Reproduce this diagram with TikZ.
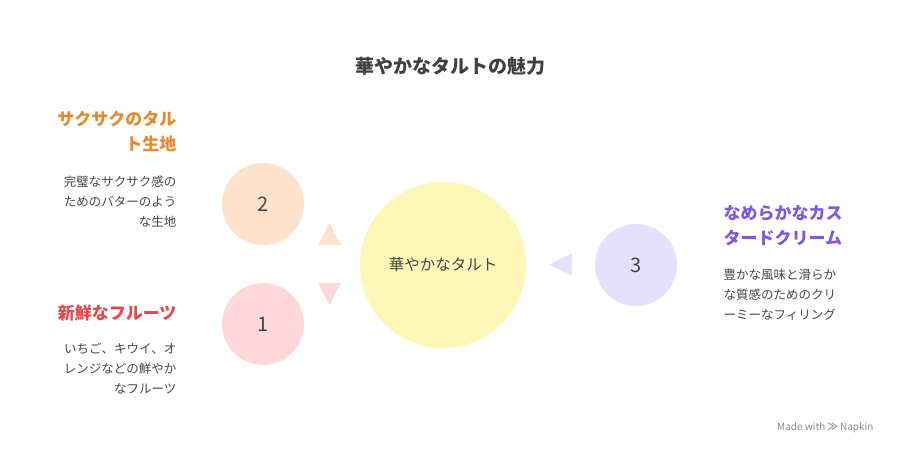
\documentclass[tikz,border=0pt]{standalone}
\usepackage{fontspec}
\setmainfont{Noto Sans CJK JP}
\begin{document}
\begin{tikzpicture}[x=1pt,y=-1pt,
  circ/.style={circle,inner sep=0pt},
  num/.style={font=\fontsize{20}{20}\selectfont,text=black!72},
  head/.style={font=\fontsize{17}{25}\selectfont\bfseries},
  desc/.style={font=\fontsize{12.5}{20}\selectfont,text=black!72}]
\useasboundingbox (0,0) rectangle (900,456);
\definecolor{cy}{HTML}{FFF7B8}\definecolor{co}{HTML}{FFE2CC}
\definecolor{cr}{HTML}{FFD9D9}\definecolor{cp}{HTML}{E6E0FF}
\definecolor{ho}{HTML}{E8892F}\definecolor{hr}{HTML}{E5484D}\definecolor{hp}{HTML}{8056E6}
\node (title) at (450,66) {\fontsize{19}{20}\selectfont\bfseries\color{black!75}華やかなタルトの魅力};
\node[circ,fill=cy,minimum size=166] (c0) at (443,265) {};
\node[text=black!72,font=\fontsize{15.5}{16}\selectfont] (c0t) at (c0) {華やかなタルト};
\node[circ,fill=co,minimum size=82,num] (c2) at (263,204) {2};
\node[circ,fill=cr,minimum size=82,num] (c1) at (263,324) {1};
\node[circ,fill=cp,minimum size=82,num] (c3) at (636,265) {3};
\fill[co] (318,245) -- (341,245) -- (329.5,223) -- cycle;
\fill[cr] (318,283) -- (341,283) -- (329.5,305) -- cycle;
\fill[cp] (549,264.5) -- (572,253) -- (572,276) -- cycle;
\node[head,text=ho,align=right,anchor=north east] (h2) at (180,108) {サクサクのタル\\ト生地};
\node[desc,align=right,anchor=north east] (d2) at (180,172) {完璧なサクサク感の\\ためのバターのよう\\な生地};
\node[head,text=hr,anchor=north east] (h1) at (180,301) {新鮮なフルーツ};
\node[desc,align=right,anchor=north east] (d1) at (180,339) {いちご、キウイ、オ\\レンジなどの鮮やか\\なフルーツ};
\node[head,text=hp,align=left,anchor=north west] (h3) at (720,202) {なめらかなカス\\タードクリーム};
\node[desc,align=left,anchor=north west] (d3) at (720,265) {豊かな風味と滑らか\\な質感のためのクリ\\ーミーなフィリング};
\node[font=\fontsize{10}{10}\selectfont,text=black!45,anchor=east] (wm) at (877,428) {Made with \textbf{≫} Napkin};
\end{tikzpicture}
\end{document}
